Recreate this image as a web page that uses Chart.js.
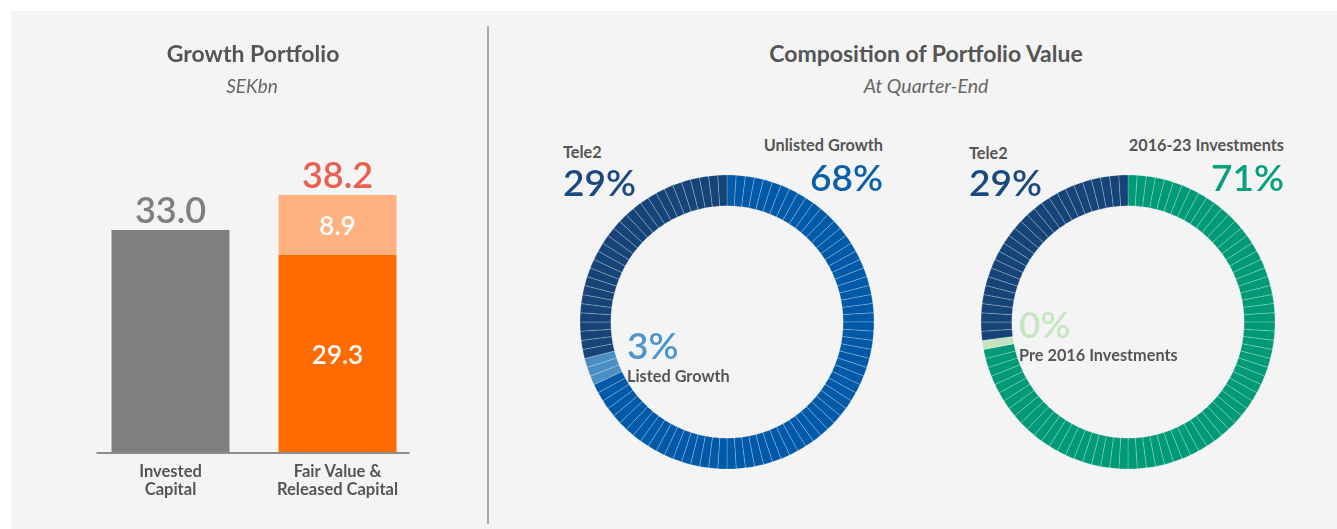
<!DOCTYPE html>
<html>
<head>
<meta charset="utf-8">
<title>Growth Portfolio</title>
<script src="https://cdn.jsdelivr.net/npm/chart.js@4.4.1/dist/chart.umd.min.js"></script>
<style>
  html, body { margin: 0; padding: 0; background: #fff; }
  body { position: relative; width: 1337px; height: 529px; overflow: hidden; font-family: Lato, "Open Sans", sans-serif; }
  #panel { position: absolute; left: 11px; top: 11px; right: 0; bottom: 0; background: #f4f4f4; }
  #divider { position: absolute; left: 487px; top: 26px; width: 2px; height: 498px; background: #aaa; }
  canvas { position: absolute; }
  .t { position: absolute; white-space: nowrap; line-height: 1; }
</style>
</head>
<body>
<div id="panel"></div>
<div id="divider"></div>
<canvas id="bars" width="487" height="529" style="left:0;top:0"></canvas>
<canvas id="ring1" width="320" height="320" style="left:567px;top:162px"></canvas>
<canvas id="ring2" width="320" height="320" style="left:968px;top:162px"></canvas>

<script>
// Growth portfolio, SEKbn
const barCategories = [['Invested', 'Capital'], ['Fair Value &', 'Released Capital']];
const investedCapital = [33.0, null];
const fairValue = [null, 29.3];
const releasedCapital = [null, 8.9];

// Composition of portfolio value (clockwise from 12 o'clock)
const growthSegments = ['Unlisted Growth', 'Listed Growth', 'Tele2'];
const growthShares = [68, 3, 29];
const growthShareText = ['68%', '3%', '29%'];

const vintageSegments = ['2016-23 Investments', 'Pre 2016 Investments', 'Tele2'];
const vintageShares = [72, 1, 27];   // arc sizes as drawn
const vintageShareText = ['71%', '0%', '29%'];

// styles
const growthColors = ['#005aa8', '#4a8ec4', '#164479'];
const growthTextColors = ['#0b5eaa', '#4e95cb', '#1a497f'];
const vintageColors = ['#009a77', '#c4e2bf', '#164479'];
const vintageTextColors = ['#05a07f', '#c6e5c2', '#1a497f'];

Chart.defaults.font.family = 'Lato, "Open Sans", sans-serif';

function addText(text, x, cy, size, color, anchor, weight, italic) {
    const d = document.createElement('div');
    d.className = 't';
    d.textContent = text;
    d.style.fontSize = size + 'px';
    d.style.color = color;
    d.style.fontWeight = weight || 600;
    if (italic) d.style.fontStyle = 'italic';
    d.style.top = (cy - 0.53 * size) + 'px';
    if (anchor === 'right') {
        d.style.right = (1337 - x) + 'px';
    } else if (anchor === 'center') {
        d.style.left = x + 'px';
        d.style.transform = 'translateX(-50%)';
    } else {
        d.style.left = x + 'px';
    }
    document.body.appendChild(d);
}

// titles
addText('Growth Portfolio', 253, 54.5, 23, '#555', 'center', 700);
addText('SEKbn', 252, 86, 19, '#666', 'center', 400, true);
addText('Composition of Portfolio Value', 926, 54.5, 23, '#555', 'center', 700);
addText('At Quarter-End', 926, 86, 19.5, '#666', 'center', 400, true);

// bar value labels + baseline
const barLabels = {
    id: 'barLabels',
    afterDatasetsDraw(chart) {
        const {ctx, scales} = chart;
        const y0 = scales.y.getPixelForValue(0);
        const first = chart.getDatasetMeta(0).data[0];
        const last = chart.getDatasetMeta(1).data[1];
        ctx.save();
        ctx.strokeStyle = '#8c8c8c';
        ctx.lineWidth = 2;
        ctx.beginPath();
        ctx.moveTo(first.x - first.width / 2 - 15, y0);
        ctx.lineTo(last.x + last.width / 2 + 13, y0);
        ctx.stroke();

        ctx.textAlign = 'center';
        ctx.textBaseline = 'middle';
        chart.data.labels.forEach((lab, i) => {
            const parts = [];
            chart.data.datasets.forEach((ds, di) => {
                if (ds.data[i] != null) parts.push({v: ds.data[i], el: chart.getDatasetMeta(di).data[i], color: ds.backgroundColor});
            });
            if (parts.length === 1) {
                const p = parts[0];
                ctx.fillStyle = p.color;
                ctx.font = '600 36px Lato';
                ctx.fillText(p.v.toFixed(1), p.el.x, p.el.y - 19);
            } else {
                let total = 0, top = Infinity, x = 0;
                parts.forEach(p => {
                    total += p.v;
                    top = Math.min(top, p.el.y);
                    x = p.el.x;
                    ctx.fillStyle = '#fff';
                    ctx.font = '600 26px Lato';
                    ctx.fillText(p.v.toFixed(1), p.el.x, (p.el.y + p.el.base) / 2 + 2);
                });
                ctx.fillStyle = '#e8604f';
                ctx.font = '600 36px Lato';
                ctx.fillText(total.toFixed(1), x, top - 19);
            }
        });
        ctx.restore();
    }
};

new Chart(document.getElementById('bars'), {
    type: 'bar',
    data: {
        labels: barCategories,
        datasets: [
            { label: 'Invested Capital', data: investedCapital, backgroundColor: '#7f7f7d' },
            { label: 'Fair Value', data: fairValue, backgroundColor: '#ff6b00' },
            { label: 'Released Capital', data: releasedCapital, backgroundColor: '#ffb27f' }
        ]
    },
    options: {
        responsive: false,
        animation: false,
        events: [],
        layout: { padding: { left: 87, right: 66, top: 149, bottom: 20 } },
        datasets: { bar: { barPercentage: 118 / 167, categoryPercentage: 1 } },
        scales: {
            x: {
                stacked: true,
                grid: { display: false, drawTicks: false },
                border: { display: false },
                ticks: { color: '#555', padding: 10, font: { size: 16.5, weight: 'bold', lineHeight: 18 / 16.5 } }
            },
            y: { stacked: true, display: false, min: 0, max: 45 }
        },
        plugins: { legend: { display: false }, tooltip: { enabled: false } }
    },
    plugins: [barLabels]
});

// one slice per percent, like the segmented ring in the report
function toUnits(shares, colors) {
    const data = [], bg = [];
    shares.forEach((v, i) => {
        let left = v;
        while (left > 0) {
            const piece = Math.min(1, left);
            data.push(piece);
            bg.push(colors[i]);
            left -= piece;
        }
    });
    return {data, bg};
}

function makeRing(id, names, shares, colors) {
    const u = toUnits(shares, colors);
    new Chart(document.getElementById(id), {
        type: 'doughnut',
        data: {
            labels: u.data.map((_, k) => k),
            datasets: [{
                data: u.data,
                backgroundColor: u.bg,
                borderColor: 'rgba(255,255,255,0.22)',
                borderWidth: 1
            }]
        },
        options: {
            responsive: false,
            animation: false,
            events: [],
            radius: 147,
            cutout: 126,
            plugins: { legend: { display: false }, tooltip: { enabled: false } }
        }
    });
}

makeRing('ring1', growthSegments, growthShares, growthColors);
makeRing('ring2', vintageSegments, vintageShares, vintageColors);

// ring labels: [anchor, x, name y, value y, value size]
const growthLabelPos = [
    ['right', 883, 146, 178, 37],
    ['left', 627, 377, 345.5, 37],
    ['left', 563, 153, 183, 37]
];
const vintageLabelPos = [
    ['right', 1284, 146, 177.5, 37],
    ['left', 1019, 356, 325, 37],
    ['left', 969, 153.5, 183, 37]
];

function ringLabels(names, texts, textColors, pos) {
    names.forEach((n, i) => {
        const [anchor, x, ny, vy, vs] = pos[i];
        addText(n, x, ny, 16.3, '#555', anchor, 700);
        addText(texts[i], x, vy, vs, textColors[i], anchor, 600);
    });
}
ringLabels(growthSegments, growthShareText, growthTextColors, growthLabelPos);
ringLabels(vintageSegments, vintageShareText, vintageTextColors, vintageLabelPos);
</script>
</body>
</html>
